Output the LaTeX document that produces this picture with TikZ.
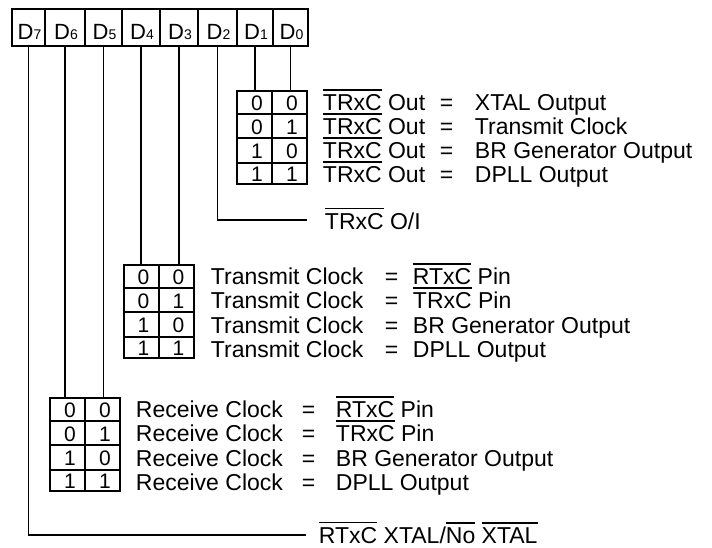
\documentclass[tikz,border=0pt]{standalone}
\usepackage{fontspec}
\setmainfont{Liberation Sans}
\newcommand\ovl[1]{\setbox0\hbox{#1}\rlap{\raisebox{\dimexpr\ht0+3.5pt\relax}{\rule{\wd0}{1.5pt}}}\box0\relax}
\newcommand\sbs[1]{{\fontsize{14}{14}\selectfont #1}}
\begin{document}
\begin{tikzpicture}[x=1pt,y=-1pt,line width=1.9pt,
  cell/.style={draw,line width=2.4pt,inner sep=0pt,minimum height=37pt},
  regl/.style={anchor=base,inner sep=0pt,font=\fontsize{22}{24}\selectfont},
  tbl/.style={draw,line width=2.2pt,inner sep=0pt,minimum width=70pt,minimum height=92.5pt,anchor=north west},
  grid/.style={line width=2pt},
  dig/.style={anchor=base,inner sep=0pt,font=\fontsize{21}{24}\selectfont},
  txt/.style={anchor=base west,inner sep=0pt,font=\fontsize{23}{24}\selectfont}]
\useasboundingbox (0,0) rectangle (712,547);

% register
\node[cell,minimum width=33] (d7) at (28.5,27.5) {};
\node[cell,minimum width=40] (d6) at (65,27.5) {};
\node[cell,minimum width=37] (d5) at (103.5,27.5) {};
\node[cell,minimum width=38] (d4) at (141,27.5) {};
\node[cell,minimum width=38] (d3) at (179,27.5) {};
\node[cell,minimum width=39] (d2) at (217.5,27.5) {};
\node[cell,minimum width=36] (d1) at (255,27.5) {};
\node[cell,minimum width=35] (d0) at (290.5,27.5) {};
\node[regl] (l7) at (29.5,39) {D\sbs{7}};
\node[regl] (l6) at (66,39) {D\sbs{6}};
\node[regl] (l5) at (104.5,39) {D\sbs{5}};
\node[regl] (l4) at (142,39) {D\sbs{4}};
\node[regl] (l3) at (180,39) {D\sbs{3}};
\node[regl] (l2) at (218.5,39) {D\sbs{2}};
\node[regl] (l1) at (256,39) {D\sbs{1}};
\node[regl] (l0) at (291.5,39) {D\sbs{0}};

% tables
\node[tbl] (t1) at (236,90) {};
\node[tbl] (t2) at (123,264) {};
\node[tbl] (t3) at (49,397) {};

% digits (drawn before grid lines)
\foreach \a/\b/\o [count=\i] in {0/0/20,0/1/44,1/0/68,1/1/91.5}{
  \node[dig] (t1a\i) at (257,90+\o) {\a};
  \node[dig] (t1b\i) at (292,90+\o) {\b};
  \node[dig] (t2a\i) at (143.5,264+\o) {\a};
  \node[dig] (t2b\i) at (178.5,264+\o) {\b};
  \node[dig] (t3a\i) at (70,397+\o) {\a};
  \node[dig] (t3b\i) at (105,397+\o) {\b};
}
\foreach \t in {t1,t2,t3}{
  \draw[grid] ([xshift=36pt]\t.north west) -- ([xshift=36pt]\t.south west);
  \foreach \r in {24,48,73}{
    \draw[grid] ([yshift=-\r pt]\t.north west) -- ([yshift=-\r pt]\t.north east);
  }
}

% table 1 texts
\foreach \v/\o [count=\i] in {XTAL Output/20.5,Transmit Clock/44.5,BR Generator Output/68.5,DPLL Output/92.5}{
  \node[txt] (ta\i) at (322,90+\o) {\ovl{TRxC} Out};
  \node[txt] (te\i) at (439,90+\o) {=};
  \node[txt] (tv\i) at (474,90+\o) {\v};
}
% table 2 texts
\foreach \v/\o [count=\i] in {{\ovl{RTxC} Pin}/20.5,{\ovl{TRxC} Pin}/44.5,BR Generator Output/69,DPLL Output/93}{
  \node[txt] (xa\i) at (210,264+\o) {Transmit Clock};
  \node[txt] (xe\i) at (384,264+\o) {=};
  \node[txt] (xv\i) at (412,264+\o) {\v};
}
% table 3 texts
\foreach \v/\o [count=\i] in {{\ovl{RTxC} Pin}/20.5,{\ovl{TRxC} Pin}/44.5,BR Generator Output/69,DPLL Output/93}{
  \node[txt] (ra\i) at (135,397+\o) {Receive Clock};
  \node[txt] (re\i) at (301,397+\o) {=};
  \node[txt] (rv\i) at (335,397+\o) {\v};
}

% single-bit labels
\node[txt] (o2) at (324,229) {\ovl{TRxC} O/I};
\node[txt] (o7) at (318,543) {\ovl{RTxC} XTAL/\ovl{No} \ovl{XTAL}};
\coordinate (c2) at (307,220);
\coordinate (c7) at (306,535);

% connectors
\draw (d7.south) |- (c7);
\draw (d2.south) |- (c2);
\draw (d6.south) -- (d6.south |- t3.north);
\draw (d5.south) -- (d5.south |- t3.north);
\draw (d4.south) -- (d4.south |- t2.north);
\draw (d3.south) -- (d3.south |- t2.north);
\draw (d1.south) -- (d1.south |- t1.north);
\draw (d0.south) -- (d0.south |- t1.north);
\end{tikzpicture}
\end{document}
